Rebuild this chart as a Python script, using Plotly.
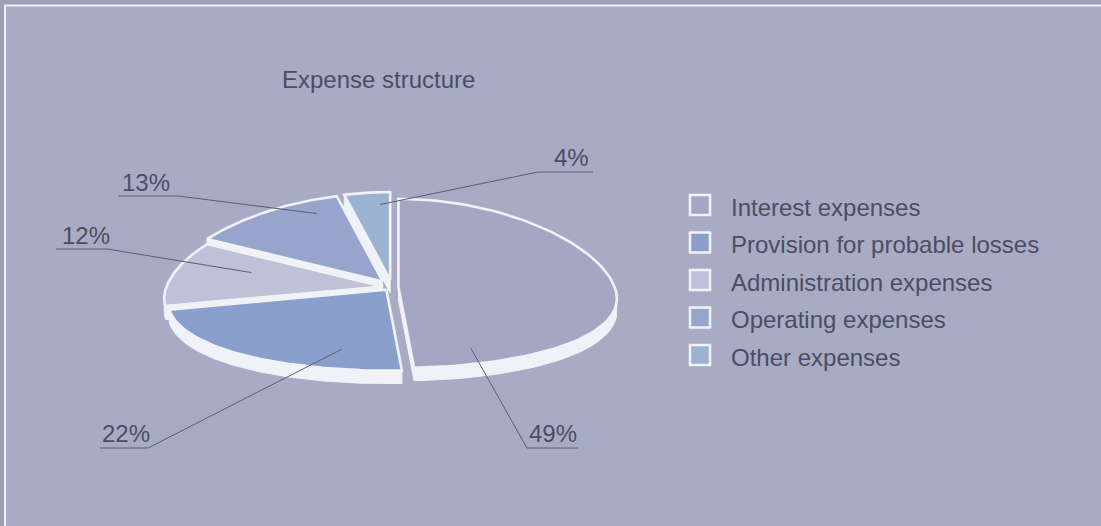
import numpy as np
import plotly.graph_objects as go

# ---- data -------------------------------------------------------------
categories = [
    "Interest expenses",
    "Provision for probable losses",
    "Administration expenses",
    "Operating expenses",
    "Other expenses",
]
shares = [49, 22, 12, 13, 4]
title_text = "Expense structure"

# ---- styling ----------------------------------------------------------
colors = ["#a4a7c3", "#8b9fcd", "#bec1d8", "#97a5cc", "#9bb2d3"]
pull = [0.03, 0.04, 0.045, 0.08, 0.08]          # explode distance (fraction of radius)
BG = "#a9abc5"
OUTER = "#9ea0b8"
EDGE = "#f1f2f7"
TXT = "#4b4e62"
LEADER = "#5a5e72"
FONT = "Liberation Sans, Arial, sans-serif"
FS = 24

W, H = 1101, 526
CX, CY = 392, 287            # pie centre in canvas units
RX, RY_FAR, RY_NEAR = 216, 88, 81
PERSP = 0.15                 # far side drawn narrower than the near side
DEPTH = 13                   # visible thickness of the tilted disc

# where each leader line touches its slice: (fraction along slice arc, radius fraction)
anchor_pos = [(0.90, 0.81), (0.22, 0.76), (0.66, 0.65), (0.78, 0.85), (0.75, 0.86)]
# elbow point, far end of the underline, label centre
leader_geo = [
    ((527, 448), (578, 448), (553, 433)),
    ((148, 448), (100, 448), (126, 433)),
    ((107, 249), (56, 249), (86, 235)),
    ((178, 196), (118, 196), (146, 182)),
    ((538, 172), (593, 172), (571, 157)),
]


def proj(theta_deg, r=1.0):
    """Project an angle on the tilted disc (clockwise from 12 o'clock)."""
    t = np.radians(theta_deg)
    s, c = np.sin(t), np.cos(t)
    ry = np.where(c > 0, RY_FAR, RY_NEAR)
    return CX + r * RX * s * (1 - PERSP * c), CY - r * ry * c


def hull(pts):
    pts = sorted(set(map(tuple, np.round(pts, 3))))
    def cross(o, a, b):
        return (a[0] - o[0]) * (b[1] - o[1]) - (a[1] - o[1]) * (b[0] - o[0])
    lower, upper = [], []
    for p in pts:
        while len(lower) >= 2 and cross(lower[-2], lower[-1], p) <= 0:
            lower.pop()
        lower.append(p)
    for p in reversed(pts):
        while len(upper) >= 2 and cross(upper[-2], upper[-1], p) <= 0:
            upper.pop()
        upper.append(p)
    h = lower[:-1] + upper[:-1]
    return np.array(h + [h[0]])


total = float(sum(shares))
spans = [v / total * 360.0 for v in shares]
starts = np.concatenate([[0.0], np.cumsum(spans)[:-1]])

slices = []
for i, (a0, sp) in enumerate(zip(starts, spans)):
    mid = a0 + sp / 2
    mx, my = proj(mid, pull[i])
    ox, oy = float(mx) - CX, float(my) - CY
    th = np.linspace(a0, a0 + sp, 90)
    ax_, ay_ = proj(th)
    fx = np.concatenate([[CX], ax_, [CX]]) + ox
    fy = np.concatenate([[CY], ay_, [CY]]) + oy
    slices.append(dict(fx=fx, fy=fy, ox=ox, oy=oy, a0=a0, sp=sp))

fig = go.Figure()

# back-to-front drawing order
order = [4, 3, 2, 1, 0]
for i in order:
    s = slices[i]
    pts = np.column_stack([np.r_[s["fx"], s["fx"]], np.r_[s["fy"], s["fy"] + DEPTH]])
    hp = hull(pts)
    fig.add_trace(go.Scatter(x=hp[:, 0], y=hp[:, 1], mode="lines", fill="toself",
                             fillcolor=EDGE, line=dict(color=EDGE, width=1),
                             hoverinfo="skip", showlegend=False))
    fig.add_trace(go.Scatter(x=s["fx"], y=s["fy"], mode="lines", fill="toself",
                             fillcolor=colors[i], line=dict(color=EDGE, width=2.6),
                             name=categories[i], showlegend=False,
                             hovertemplate=f"{categories[i]}: {shares[i]}%<extra></extra>"))

# leader lines and percentage labels
annotations = []
for i, s in enumerate(slices):
    f, r = anchor_pos[i]
    axp, ayp = proj(s["a0"] + f * s["sp"], r)
    ax0, ay0 = float(axp) + s["ox"], float(ayp) + s["oy"]
    (ex, ey), (tx, ty), (lx, ly) = leader_geo[i]
    fig.add_trace(go.Scatter(x=[ax0, ex, tx], y=[ay0, ey, ty], mode="lines",
                             line=dict(color=LEADER, width=1), hoverinfo="skip",
                             showlegend=False))
    annotations.append(dict(x=lx, y=ly, text=f"{shares[i]}%", showarrow=False,
                            xref="x", yref="y", xanchor="center", yanchor="middle",
                            font=dict(family=FONT, size=FS, color=TXT)))

# legend
LEG_X, LEG_Y0, LEG_DY = 700, 205, 37.5
for i, name in enumerate(categories):
    yy = LEG_Y0 + i * LEG_DY
    fig.add_trace(go.Scatter(x=[LEG_X], y=[yy], mode="markers",
                             marker=dict(symbol="square", size=20, color=colors[i],
                                         line=dict(color=EDGE, width=2.5)),
                             hoverinfo="skip", showlegend=False))
    annotations.append(dict(x=729, y=yy + 2, text=name, showarrow=False, xref="x", yref="y",
                            xanchor="left", yanchor="middle",
                            font=dict(family=FONT, size=FS, color=TXT)))

annotations.append(dict(x=378, y=79, text=title_text, showarrow=False, xref="x", yref="y",
                        xanchor="center", yanchor="middle",
                        font=dict(family=FONT, size=FS, color=TXT)))

fig.update_layout(
    width=W, height=H, margin=dict(l=0, r=0, t=0, b=0),
    paper_bgcolor=OUTER, plot_bgcolor=OUTER,
    xaxis=dict(range=[0, W], visible=False, domain=[0, 1], fixedrange=True),
    yaxis=dict(range=[H, 0], visible=False, domain=[0, 1], fixedrange=True),
    annotations=annotations,
    shapes=[dict(type="rect", xref="x", yref="y", x0=5, y0=5.5, x1=W + 20, y1=H + 20,
                 fillcolor=BG, line=dict(color=EDGE, width=2), layer="below")],
    showlegend=False,
)

fig.write_html("out.html")
